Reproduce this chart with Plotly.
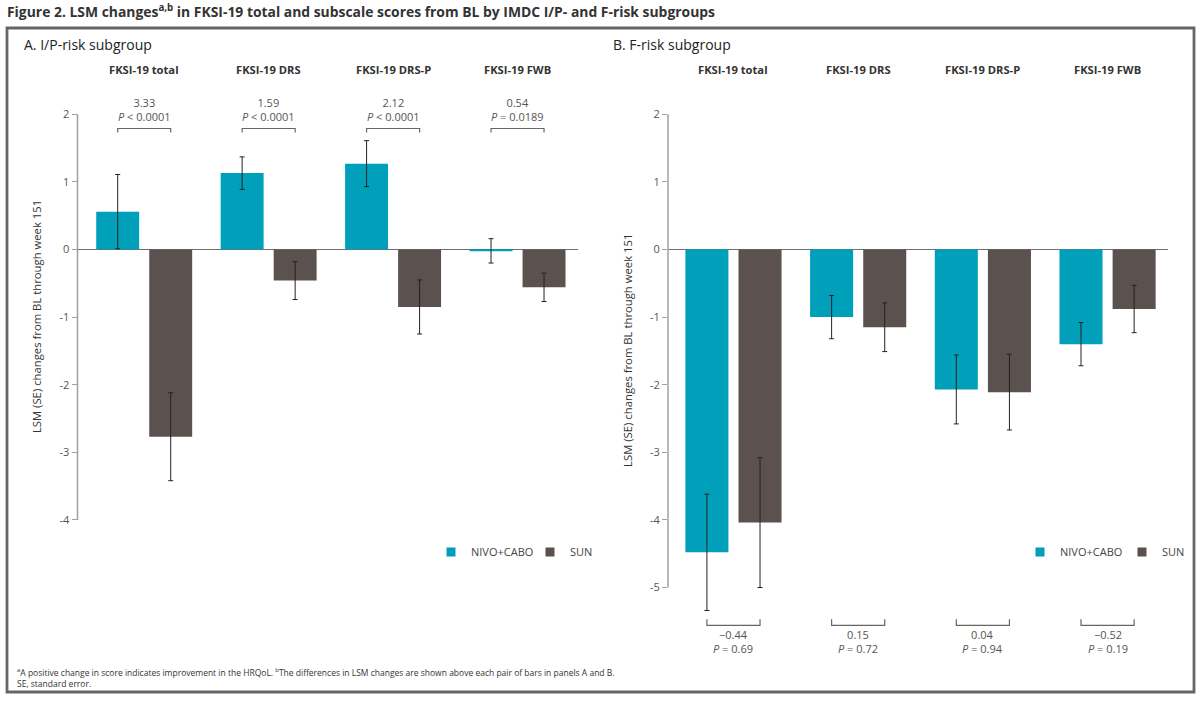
import plotly.graph_objects as go

# ---------------- data ----------------
categories = ["FKSI-19 total", "FKSI-19 DRS", "FKSI-19 DRS-P", "FKSI-19 FWB"]
series_names = ["NIVO+CABO", "SUN"]

a_nivo = [0.56, 1.13, 1.27, -0.02]
a_nivo_se = [0.55, 0.24, 0.34, 0.18]
a_sun = [-2.77, -0.46, -0.85, -0.56]
a_sun_se = [0.65, 0.28, 0.40, 0.21]
a_diff = ["3.33", "1.59", "2.12", "0.54"]
a_pval = ["<i>P</i> &lt; 0.0001", "<i>P</i> &lt; 0.0001", "<i>P</i> &lt; 0.0001", "<i>P</i> = 0.0189"]

b_nivo = [-4.48, -1.00, -2.07, -1.40]
b_nivo_se = [0.86, 0.32, 0.51, 0.32]
b_sun = [-4.04, -1.15, -2.11, -0.88]
b_sun_se = [0.96, 0.36, 0.56, 0.35]
b_diff = ["\u22120.44", "0.15", "0.04", "\u22120.52"]
b_pval = ["<i>P</i> = 0.69", "<i>P</i> = 0.72", "<i>P</i> = 0.94", "<i>P</i> = 0.19"]

a_ticks = [2, 1, 0, -1, -2, -3, -4]
b_ticks = [2, 1, 0, -1, -2, -3, -4, -5]

# ---------------- styles ----------------
W, H = 1200, 701
TEAL = "#00A0BB"
BROWN = "#5B5250"
FONT = "Open Sans"
TXT = "#333333"
GRAY_TXT = "#555555"
AXIS_GRAY = "#A0A0A0"
BARGAP = 0.148
BARGROUPGAP = 0.19
YRANGE = [-6.0, 2.8]
PX_UNIT = 67.6
ZERO_PX = 249.5
y_top_px = ZERO_PX - YRANGE[1] * PX_UNIT
y_bot_px = ZERO_PX - YRANGE[0] * PX_UNIT
YDOM = [1 - y_bot_px / H, 1 - y_top_px / H]

xpos = list(range(len(categories)))
off = (1 - BARGAP) / 4

fig = go.Figure()

def add_panel(nivo, nivo_se, sun, sun_se, xa, ya, legend):
    for name, vals, se, col in [(series_names[0], nivo, nivo_se, TEAL),
                                (series_names[1], sun, sun_se, BROWN)]:
        fig.add_trace(go.Bar(
            x=xpos, y=vals, name=name, marker=dict(color=col, line=dict(width=0)),
            error_y=dict(type="data", array=se, visible=True, color="#222222",
                         thickness=1, width=2.5),
            xaxis=xa, yaxis=ya, showlegend=False, hoverinfo="y"))
        fig.add_trace(go.Scatter(
            x=[None], y=[None], mode="markers", name=name,
            marker=dict(symbol="square", size=9, color=col),
            xaxis=xa, yaxis=ya, legend=legend, showlegend=True))

add_panel(a_nivo, a_nivo_se, a_sun, a_sun_se, "x", "y", "legend")
add_panel(b_nivo, b_nivo_se, b_sun, b_sun_se, "x2", "y2", "legend2")

axis_common = dict(showgrid=False, showline=False, zeroline=False,
                   showticklabels=False, ticks="", fixedrange=True)
yaxis_common = dict(range=YRANGE, domain=YDOM, showgrid=False, showline=False,
                    zeroline=True, zerolinecolor="#6E6E6E", zerolinewidth=1,
                    ticks="outside", ticklen=5, tickwidth=1, tickcolor=AXIS_GRAY,
                    tickfont=dict(family=FONT, size=11, color=GRAY_TXT),
                    fixedrange=True)

legend_common = dict(orientation="h", xanchor="left", yanchor="middle",
                     font=dict(family=FONT, size=11, color="#444444"),
                     entrywidthmode="pixels", bgcolor="rgba(0,0,0,0)")

fig.update_layout(
    width=W, height=H, margin=dict(l=0, r=0, t=0, b=0, autoexpand=False),
    paper_bgcolor="white", plot_bgcolor="rgba(0,0,0,0)",
    barmode="group", bargap=BARGAP, bargroupgap=BARGROUPGAP,
    font=dict(family=FONT, color=TXT),
    xaxis=dict(domain=[77.5 / W, 578 / W], range=[-0.536, 3.486], anchor="y", **axis_common),
    xaxis2=dict(domain=[668 / W, 1168.3 / W], range=[-0.525, 3.487], anchor="y2", **axis_common),
    yaxis=dict(anchor="x", tickvals=a_ticks, ticktext=[str(t) for t in a_ticks], **yaxis_common),
    yaxis2=dict(anchor="x2", tickvals=b_ticks, ticktext=[str(t) for t in b_ticks], **yaxis_common),
    legend=dict(x=431 / W, y=1 - 552 / H, entrywidth=54, **legend_common),
    legend2=dict(x=1020 / W, y=1 - 552 / H, entrywidth=57, **legend_common),
    showlegend=True,
)

shapes = []
annos = []

# outer frame
shapes.append(dict(type="rect", xref="paper", yref="paper",
                   x0=7 / W, x1=1194 / W, y0=1 - 692 / H, y1=1 - 28 / H,
                   line=dict(color="#666666", width=2.8), fillcolor="rgba(0,0,0,0)"))

# y axis lines
for xa, ya, ticks in [("x", "y", a_ticks), ("x2", "y2", b_ticks)]:
    shapes.append(dict(type="line", xref=xa + " domain", yref=ya, x0=0, x1=0,
                       y0=max(ticks), y1=min(ticks), line=dict(color=AXIS_GRAY, width=1.5)))

# brackets & difference labels
for i in xpos:
    xl, xr = xpos[i] - off, xpos[i] + off
    # panel A (above)
    shapes.append(dict(type="path", xref="x", yref="y",
                       path=f"M{xl},1.73 L{xl},1.79 L{xr},1.79 L{xr},1.73",
                       line=dict(color="#666666", width=1.2)))
    annos.append(dict(x=xpos[i], y=2.07, xref="x", yref="y", showarrow=False,
                      text=f"{a_diff[i]}<br>{a_pval[i]}", align="center",
                      font=dict(family=FONT, size=11, color=GRAY_TXT)))
    # panel B (below)
    shapes.append(dict(type="path", xref="x2", yref="y2",
                       path=f"M{xl},-5.47 L{xl},-5.56 L{xr},-5.56 L{xr},-5.47",
                       line=dict(color="#666666", width=1.2)))
    annos.append(dict(x=xpos[i], y=-5.80, xref="x2", yref="y2", showarrow=False,
                      text=f"{b_diff[i]}<br>{b_pval[i]}", align="center",
                      font=dict(family=FONT, size=11, color=GRAY_TXT)))
    # category headers
    for xa, ya in [("x", "y"), ("x2", "y2")]:
        annos.append(dict(x=xpos[i], y=2.67, xref=xa, yref=ya, showarrow=False,
                          text=f"<b>{categories[i]}</b>",
                          font=dict(family=FONT, size=11.2, color=TXT)))

# y axis titles
ytitle = "LSM (SE) changes from BL through week 151"
annos.append(dict(x=36 / W, xref="paper", xanchor="center",
                  y=(max(a_ticks) + min(a_ticks)) / 2, yref="y", yanchor="middle",
                  text=ytitle, textangle=-90, showarrow=False,
                  font=dict(family=FONT, size=11.3, color=TXT)))
annos.append(dict(x=628 / W, xref="paper", xanchor="center",
                  y=(max(b_ticks) + min(b_ticks)) / 2, yref="y2", yanchor="middle",
                  text=ytitle, textangle=-90, showarrow=False,
                  font=dict(family=FONT, size=11.3, color=TXT)))

# panel titles
annos.append(dict(x=22 / W, y=1 - 45 / H, xref="paper", yref="paper", xanchor="left",
                  yanchor="middle", showarrow=False, text="A. I/P-risk subgroup",
                  font=dict(family=FONT, size=14, color="#222222")))
annos.append(dict(x=611 / W, y=1 - 45 / H, xref="paper", yref="paper", xanchor="left",
                  yanchor="middle", showarrow=False, text="B. F-risk subgroup",
                  font=dict(family=FONT, size=14, color="#222222")))

# figure title
annos.append(dict(x=5 / W, y=1 - 11 / H, xref="paper", yref="paper", xanchor="left",
                  yanchor="middle", showarrow=False,
                  text="<b>Figure 2. LSM changes<sup>a,b</sup> in FKSI-19 total and subscale scores "
                       "from BL by IMDC I/P- and F-risk subgroups</b>",
                  font=dict(family=FONT, size=13.9, color="#333333")))

# footnote
annos.append(dict(x=15 / W, y=1 - 677 / H, xref="paper", yref="paper", xanchor="left",
                  yanchor="middle", align="left", showarrow=False,
                  text="<sup>a</sup>A positive change in score indicates improvement in the HRQoL. "
                       "<sup>b</sup>The differences in LSM changes are shown above each pair of bars "
                       "in panels A and B.<br>SE, standard error.",
                  font=dict(family=FONT, size=8.5, color="#333333")))

fig.update_layout(shapes=shapes, annotations=annos)

fig.write_html("out.html")
